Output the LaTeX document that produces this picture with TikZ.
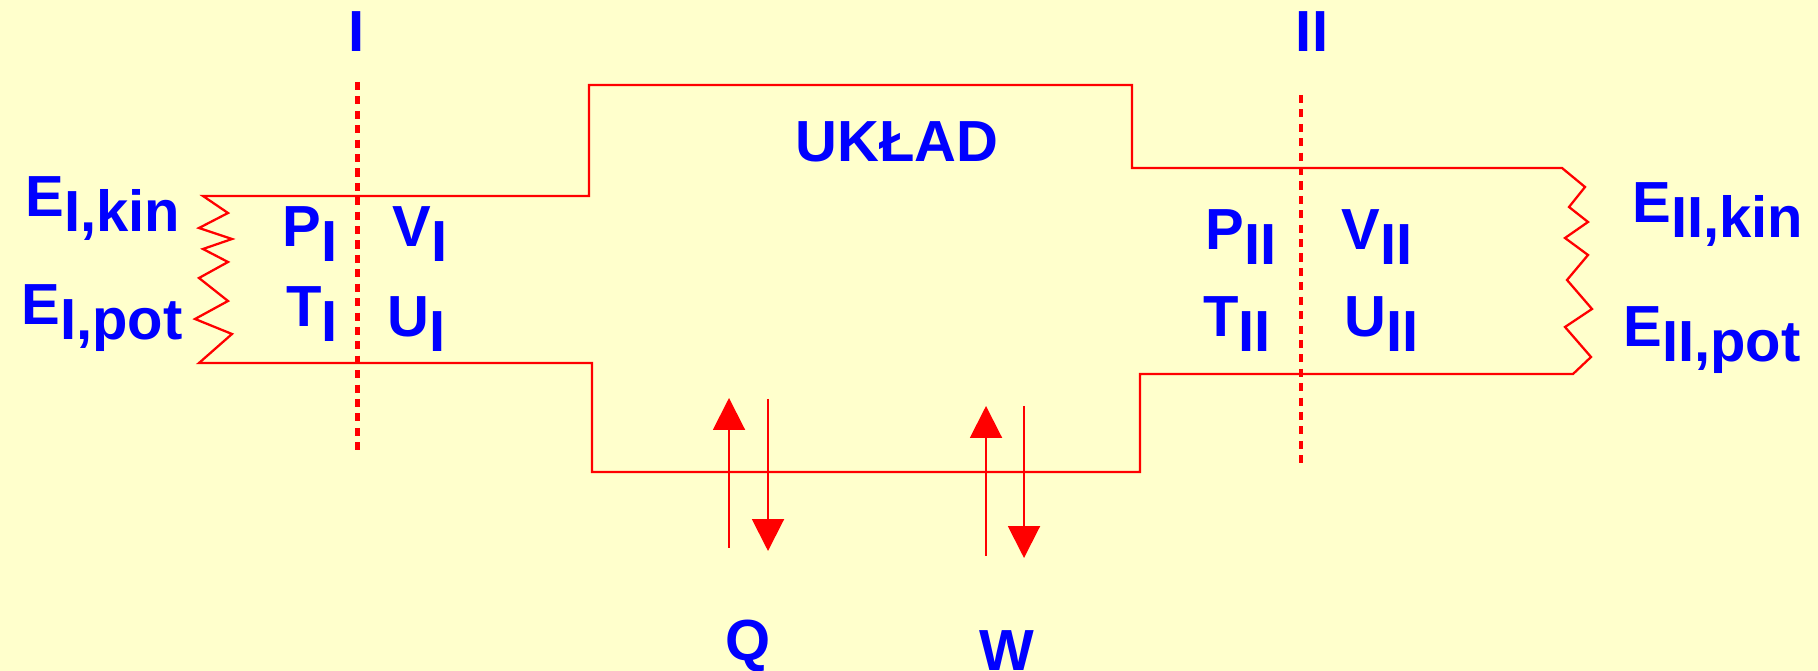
\documentclass[tikz,border=0pt]{standalone}
\usepackage{fontspec}
\setmainfont{Liberation Sans}
\usetikzlibrary{arrows.meta}
\definecolor{bgyellow}{RGB}{255,255,204}
\definecolor{kred}{RGB}{255,0,0}
\definecolor{kblue}{RGB}{0,0,255}
\newcommand{\idx}[1]{\raisebox{-0.3cm}{#1}}

\begin{document}
\begin{tikzpicture}[x=0.02cm, y=-0.02cm,
	font=\fontsize{33}{38}\selectfont\bfseries,
	lbl/.style={text=kblue, inner sep=0pt, anchor=base west},
	wall/.style={draw=kred, line width=1.3pt, line join=miter},
	cut/.style={draw=kred, line width=2.3pt, dash pattern=on 4.6pt off 3.6pt},
	flow/.style={draw=kred, line width=1.15pt, -{Triangle[length=0.64cm, width=0.64cm]}}]
	
	% ---- background ----
	\useasboundingbox (0,0) rectangle (1818,671);
	\fill[bgyellow] (0,0) rectangle (1818,671);
	
	% ---- outline of the system ----
	\draw[wall] (199,363) -- (232,334) -- (195,319) -- (228,301) -- (199,278)
	-- (228,262) -- (203,249) -- (232,239) -- (199,228) -- (228,213) -- (203,196)
	-- (589,196) -- (589,85) -- (1132,85) -- (1132,168) -- (1562,168)
	-- (1585,187) -- (1569,207) -- (1588,222) -- (1565,238) -- (1588,255)
	-- (1567,280) -- (1592,309) -- (1565,327) -- (1591,357) -- (1573,374)
	-- (1140,374) -- (1140,472) -- (592,472) -- (592,363) -- cycle;
	
	% ---- cross sections ----
	\node[lbl, anchor=base] (secI) at (357,52) {I};
	\node[lbl, anchor=base] (secII) at (1312,52) {II};
	\draw[cut] (357.5,82) -- (357.5,453);
	\draw[cut] (1301,95) -- (1301,466);
	
	\node[lbl, anchor=base] (uklad) at (897,162) {UKŁAD};
	
	% ---- left: inlet ----
	\node[lbl] (EIkin) at (25,217) {E\idx{I,kin}};
	\node[lbl] (EIpot) at (21,325) {E\idx{I,pot}};
	\node[lbl] (PI) at (282,247) {P\idx{I}};
	\node[lbl] (VI) at (392,247) {V\idx{I}};
	\node[lbl] (TI) at (286,327) {T\idx{I}};
	\node[lbl] (UI) at (387,337) {U\idx{I}};
	
	% ---- right: outlet ----
	\node[lbl] (PII) at (1205,250) {P\idx{II}};
	\node[lbl] (VII) at (1341,250) {V\idx{II}};
	\node[lbl] (TII) at (1203,337) {T\idx{II}};
	\node[lbl] (UII) at (1344,337) {U\idx{II}};
	\node[lbl] (EIIkin) at (1632,223) {E\idx{II,kin}};
	\node[lbl] (EIIpot) at (1623,347) {E\idx{II,pot}};
	
	% ---- heat and work ----
	\coordinate (q0) at (729,548);
	\coordinate (q1) at (729,398);
	\coordinate (q2) at (768,399);
	\coordinate (q3) at (768,551);
	\coordinate (w0) at (986,556);
	\coordinate (w1) at (986,406);
	\coordinate (w2) at (1024,406);
	\coordinate (w3) at (1024,558);
	\draw[flow] (q0) -- (q1);
	\draw[flow] (q2) -- (q3);
	\draw[flow] (w0) -- (w1);
	\draw[flow] (w2) -- (w3);
	\node[lbl, anchor=base] (Q) at (748,660) {Q};
	\node[lbl, anchor=base] (W) at (1007,670) {W};
	
\end{tikzpicture}
\end{document}
